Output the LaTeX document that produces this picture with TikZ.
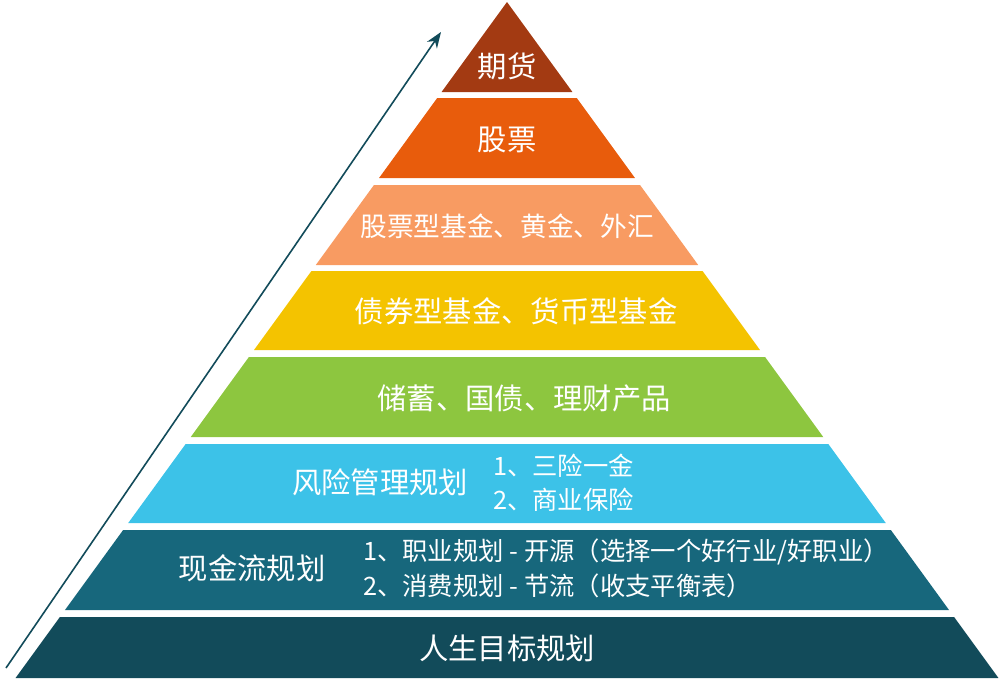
\documentclass[tikz,border=0pt]{standalone}
\usepackage{fontspec}
\setmainfont{Noto Sans CJK SC}
\usetikzlibrary{arrows.meta}
\definecolor{c1}{HTML}{A33A12}
\definecolor{c2}{HTML}{E85C0C}
\definecolor{c3}{HTML}{F89B62}
\definecolor{c4}{HTML}{F4C300}
\definecolor{c5}{HTML}{8DC63F}
\definecolor{c6}{HTML}{3CC2E8}
\definecolor{c7}{HTML}{17677C}
\definecolor{c8}{HTML}{124B5A}
\begin{document}
\begin{tikzpicture}[x=0.75pt,y=-0.75pt,
  lbl/.style={text=white,font=\fontsize{22}{24}\selectfont,inner sep=0pt},
  sml/.style={text=white,font=\fontsize{19}{24}\selectfont,inner sep=0pt,anchor=west}]
\useasboundingbox (0,0) rectangle (1000,683);
\foreach \t/\b/\c in {2/92/c1,98/178/c2,185/265/c3,271/350/c4,357/437/c5,444/523/c6,530/610/c7,617/678/c8}{
  \pgfmathsetmacro\ht{0.727*(\t-2)}
  \pgfmathsetmacro\hb{0.727*(\b-2)}
  \fill[\c] (507-\ht,\t) -- (507+\ht,\t) -- (507+\hb,\b) -- (507-\hb,\b) -- cycle;
}
\node[lbl] (l1) at (507,66) {期货};
\node[lbl] (l2) at (507,140) {股票};
\node[lbl,font=\fontsize{20}{24}\selectfont] (l3) at (507,226) {股票型基金、黄金、外汇};
\node[lbl] (l4) at (516,311) {债券型基金、货币型基金};
\node[lbl] (l5) at (524,398) {储蓄、国债、理财产品};
\node[lbl] (l6) at (380,482) {风险管理规划};
\node[sml] (l6a) at (493,466) {1、三险一金};
\node[sml] (l6b) at (493,500) {2、商业保险};
\node[lbl] (l7) at (252,568) {现金流规划};
\node[sml] (l7a) at (363,552) {1、职业规划 - 开源（选择一个好行业/好职业）};
\node[sml] (l7b) at (363,586) {2、消费规划 - 节流（收支平衡表）};
\node[lbl] (l8) at (507,648) {人生目标规划};
\coordinate (a0) at (6,668);
\coordinate (a1) at (441,32);
\draw[c8,line width=1.2pt,-{Stealth[length=12pt,width=9pt]}] (a0) -- (a1);
\end{tikzpicture}
\end{document}
